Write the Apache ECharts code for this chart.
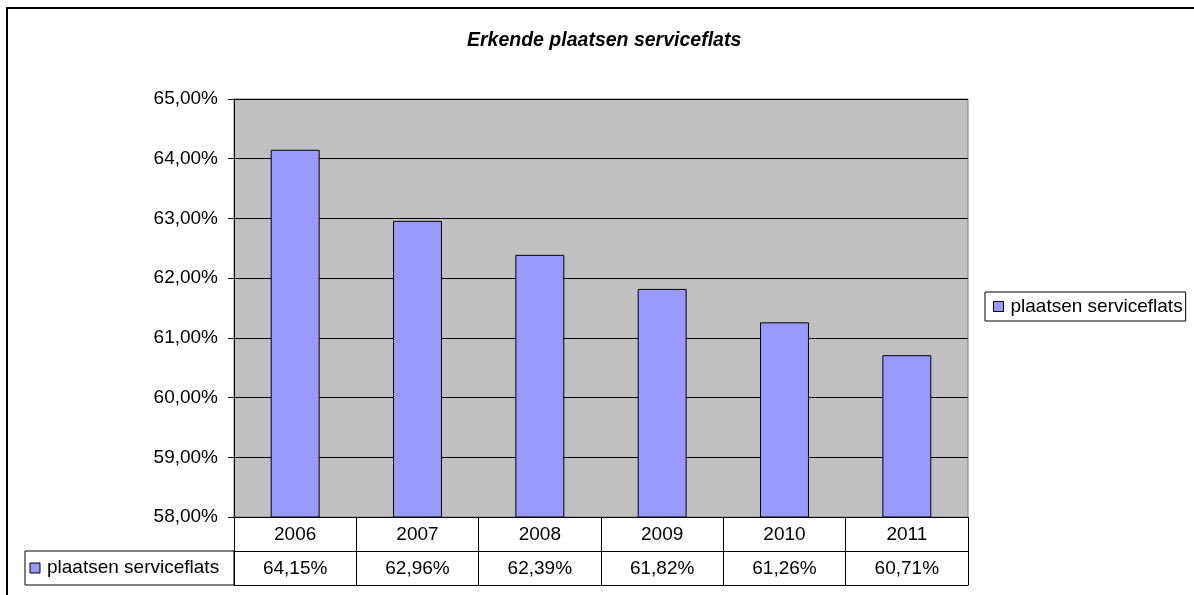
<!DOCTYPE html>
<html><head><meta charset="utf-8">
<script src="https://cdn.jsdelivr.net/npm/echarts@6/dist/echarts.min.js"></script>
<style>html,body{margin:0;padding:0;background:#fff}#c{width:1194px;height:595px}</style>
</head><body><div id="c"></div>
<script>
var titleText = 'Erkende plaatsen serviceflats';
var seriesName = 'plaatsen serviceflats';
var years = ['2006','2007','2008','2009','2010','2011'];
var values = [64.15, 62.96, 62.39, 61.82, 61.26, 60.71];
var yMin = 58, yMax = 65, yStep = 1;

var FONT = '"Liberation Sans", Arial, sans-serif';
var FS = 19;
function pct(v){ return v.toFixed(2).replace('.', ',') + '%'; }

var chart = echarts.init(document.getElementById('c'), null, {renderer:'canvas'});
chart.setOption({
  animation: false,
  backgroundColor: '#fff',
  textStyle: {fontFamily: FONT},
  title: {
    text: titleText, left: 467, top: 31, padding: 0,
    textStyle: {fontFamily: FONT, fontSize: 19.5, fontWeight: 'bold', fontStyle: 'italic', color: '#000'}
  },
  legend: {
    data: [seriesName], left: 985, top: 292, orient: 'vertical',
    padding: [5, 3, 5, 8], itemGap: 0, itemWidth: 10, itemHeight: 10,
    icon: 'rect', borderColor: '#000', borderWidth: 1,
    textStyle: {fontFamily: FONT, fontSize: FS, color: '#000', padding: [0,0,0,2]},
    itemStyle: {borderColor: '#000', borderWidth: 1}
  },
  grid: {
    left: 234, right: 226, top: 99, bottom: 78,
    show: true, backgroundColor: '#C0C0C0', borderColor: '#808080', borderWidth: 1
  },
  xAxis: [
    {
      type: 'category', data: years, position: 'bottom', boundaryGap: true,
      axisLine: {show: true, lineStyle: {color: '#000', width: 1}},
      axisTick: {show: true, length: 34, lineStyle: {color: '#000'}},
      axisLabel: {fontFamily: FONT, fontSize: FS, color: '#000', margin: 8}
    },
    {
      type: 'category', data: years, position: 'bottom', offset: 34, boundaryGap: true,
      axisLine: {show: true, lineStyle: {color: '#000', width: 1}},
      axisTick: {show: true, length: 34, lineStyle: {color: '#000'}},
      axisLabel: {fontFamily: FONT, fontSize: FS, color: '#000', margin: 8,
        formatter: function(v, i){ return pct(values[i]); }}
    },
    {
      type: 'category', data: years, position: 'bottom', offset: 68,
      axisLine: {show: true, lineStyle: {color: '#000', width: 1}},
      axisTick: {show: false}, axisLabel: {show: false}
    }
  ],
  yAxis: {
    type: 'value', min: yMin, max: yMax, interval: yStep,
    axisLine: {show: true, lineStyle: {color: '#000'}},
    axisTick: {show: true, length: 6, lineStyle: {color: '#000'}},
    splitLine: {show: true, lineStyle: {color: '#000', width: 1}},
    axisLabel: {fontFamily: FONT, fontSize: FS, color: '#000', margin: 16, formatter: pct}
  },
  series: [{
    name: seriesName, type: 'bar', data: values, barWidth: '40%',
    itemStyle: {color: '#9999FF', borderColor: '#000', borderWidth: 1}
  }],
  graphic: [
    {type: 'rect', shape: {x: 7, y: 8, width: 1210, height: 610}, style: {fill: 'none', stroke: '#000', lineWidth: 2}, silent: true},
    {type: 'rect', shape: {x: 25, y: 551, width: 209, height: 34}, style: {fill: 'none', stroke: '#000', lineWidth: 1}, silent: true},
    {type: 'rect', shape: {x: 30, y: 563, width: 10, height: 10}, style: {fill: '#9999FF', stroke: '#000', lineWidth: 1}, silent: true},
    {type: 'text', x: 47, y: 568, style: {text: seriesName, font: FS + 'px ' + FONT, fill: '#000', textVerticalAlign: 'middle', verticalAlign: 'middle'}, silent: true}
  ]
});
</script></body></html>
